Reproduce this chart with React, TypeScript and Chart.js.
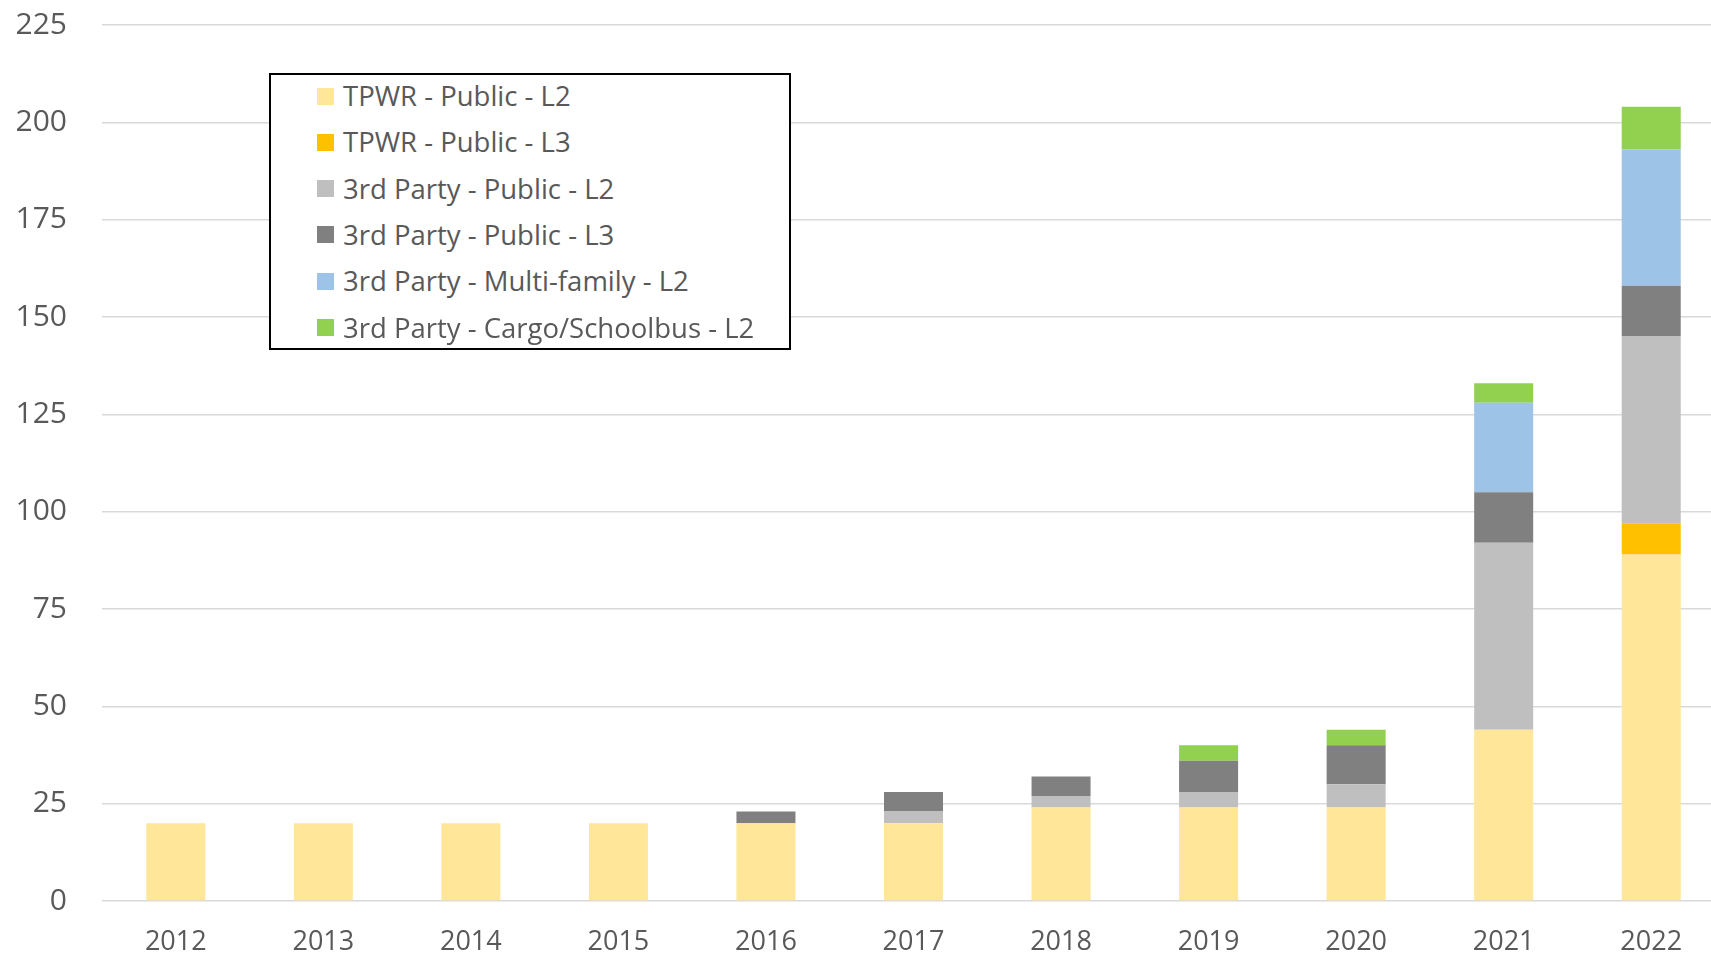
import React, { useEffect, useRef } from "react";
import { Chart, registerables } from "chart.js";

Chart.register(...registerables);

const years = ["2012", "2013", "2014", "2015", "2016", "2017", "2018", "2019", "2020", "2021", "2022"];

const tpwrPublicL2 = [20, 20, 20, 20, 20, 20, 24, 24, 24, 44, 89];
const tpwrPublicL3 = [0, 0, 0, 0, 0, 0, 0, 0, 0, 0, 8];
const thirdPublicL2 = [0, 0, 0, 0, 0, 3, 3, 4, 6, 48, 48];
const thirdPublicL3 = [0, 0, 0, 0, 3, 5, 5, 8, 10, 13, 13];
const thirdMultiFamilyL2 = [0, 0, 0, 0, 0, 0, 0, 0, 0, 23, 35];
const thirdCargoL2 = [0, 0, 0, 0, 0, 0, 0, 4, 4, 5, 11];

const seriesLabels = [
  "TPWR - Public - L2",
  "TPWR - Public - L3",
  "3rd Party - Public - L2",
  "3rd Party - Public - L3",
  "3rd Party - Multi-family - L2",
  "3rd Party - Cargo/Schoolbus - L2",
];
const seriesValues = [tpwrPublicL2, tpwrPublicL3, thirdPublicL2, thirdPublicL3, thirdMultiFamilyL2, thirdCargoL2];
const seriesColors = ["#FFE699", "#FFC000", "#BFBFBF", "#808080", "#9DC3E6", "#92D050"];

const yTicks = [0, 25, 50, 75, 100, 125, 150, 175, 200, 225];

const FONT = '"Open Sans", "Noto Sans", sans-serif';
const TEXT = "#595959";

export default function App() {
  const canvasRef = useRef<HTMLCanvasElement | null>(null);

  useEffect(() => {
    const canvas = canvasRef.current;
    if (!canvas) return;
    const chart = new Chart(canvas, {
      type: "bar",
      data: {
        labels: years,
        datasets: seriesLabels.map((label, i) => ({
          label,
          data: seriesValues[i],
          backgroundColor: seriesColors[i],
          borderWidth: 0,
          barPercentage: 0.8,
          categoryPercentage: 0.5,
        })),
      },
      options: {
        animation: false,
        responsive: true,
        maintainAspectRatio: false,
        layout: { padding: { top: 23, left: 0, right: 0, bottom: 0 } },
        plugins: {
          legend: { display: false },
          tooltip: { enabled: false },
        },
        scales: {
          x: {
            stacked: true,
            grid: { display: false, drawTicks: false },
            border: { display: false },
            ticks: {
              color: TEXT,
              font: { family: FONT, size: 27 },
              padding: 25,
              maxRotation: 0,
            },
            afterFit: (scale: any) => {
              scale.height = 56;
            },
          },
          y: {
            stacked: true,
            min: 0,
            max: yTicks[yTicks.length - 1],
            grid: { color: "#D9D9D9", lineWidth: 1.5, drawTicks: false },
            border: { display: false },
            ticks: {
              stepSize: 25,
              color: TEXT,
              font: { family: FONT, size: 30 },
              padding: 35,
            },
            afterFit: (scale: any) => {
              scale.width = 102;
            },
          },
        },
      },
    });
    return () => chart.destroy();
  }, []);

  const rowTop = 96;
  const rowGap = 46.3;

  return (
    <div
      style={{
        position: "fixed",
        left: 0,
        top: 0,
        width: 1711,
        height: 957,
        overflow: "hidden",
        background: "#fff",
      }}
    >
      <div style={{ position: "absolute", left: 0, top: -28, width: 1725, height: 985 }}>
        <canvas ref={canvasRef} />
      </div>
      <div
        style={{
          position: "absolute",
          left: 269,
          top: 73,
          width: 522,
          height: 277,
          border: "2px solid #000",
          boxSizing: "border-box",
          background: "#fff",
        }}
      />
      {seriesLabels.map((label, i) => (
        <div
          key={label}
          style={{
            position: "absolute",
            left: 317,
            top: rowTop + rowGap * i - 23,
            height: 46,
            display: "flex",
            alignItems: "center",
            whiteSpace: "nowrap",
          }}
        >
          <span
            style={{
              display: "inline-block",
              width: 17,
              height: 17,
              background: seriesColors[i],
              marginRight: 9,
            }}
          />
          <span style={{ fontFamily: FONT, fontSize: 27.5, color: TEXT, lineHeight: "46px" }}>{label}</span>
        </div>
      ))}
    </div>
  );
}
